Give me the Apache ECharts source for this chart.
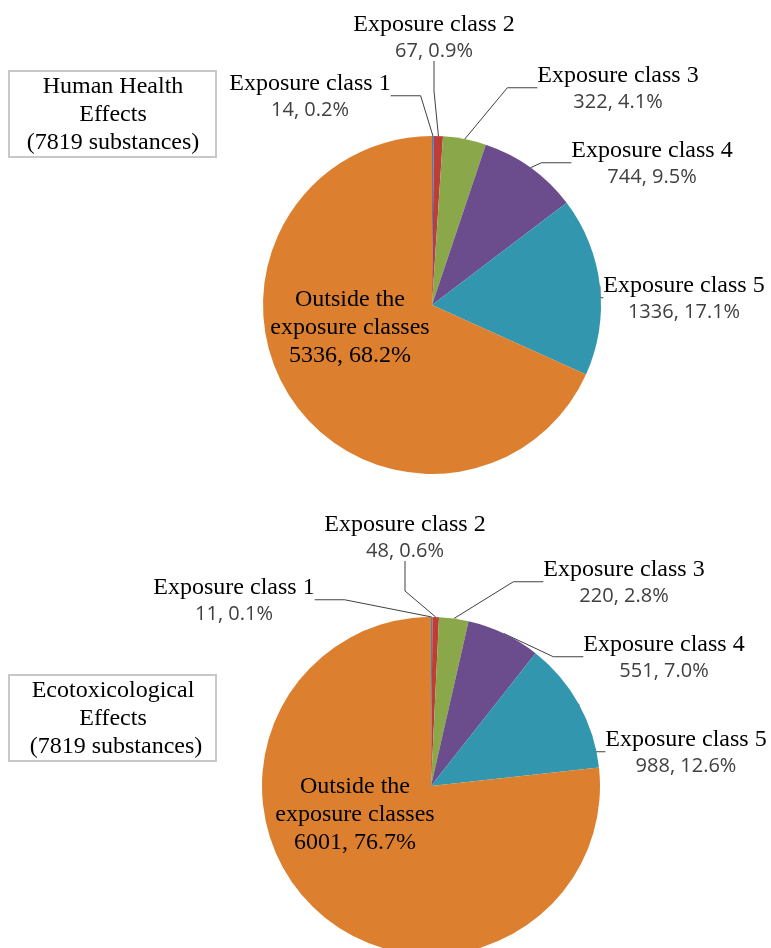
<!DOCTYPE html>
<html>
<head>
<meta charset="utf-8">
<script src="https://cdn.jsdelivr.net/npm/echarts@6/dist/echarts.min.js"></script>
<style>
  html, body { margin: 0; padding: 0; background: #fff; }
  #chart { width: 771px; height: 948px; }
</style>
</head>
<body>
<div id="chart"></div>
<script>
// data
var categories = ['Exposure class 1', 'Exposure class 2', 'Exposure class 3',
                  'Exposure class 4', 'Exposure class 5', 'Outside the exposure classes'];
var humanValues = [14, 67, 322, 744, 1336, 5336];
var ecoValues = [11, 48, 220, 551, 988, 6001];
var boxTitles = ['Human Health\nEffects\n(7819 substances)', 'Ecotoxicological\nEffects\n (7819 substances)'];

// styles
var colors = ['#4a7ebb', '#be3d36', '#8aa84a', '#6b4d8d', '#3196ae', '#dc7f2e'];
var serif = '"Liberation Serif", "Times New Roman", serif';
var sans = '"Open Sans", "Noto Sans", sans-serif';

// label block centres (layout only)
var humanLabelPos = [[310, 96], [434, 37], [618, 88], [652, 163], [684, 298], [350, 328]];
var ecoLabelPos = [[234, 600], [405, 537], [624, 582], [664, 657], [686, 752], [355, 815]];

function makeData(values) {
  return categories.map(function (c, i) {
    var item = { name: c, value: values[i], itemStyle: { color: colors[i] } };
    if (i === categories.length - 1) item.labelLine = { show: false };
    return item;
  });
}

function makePie(values, center, labelPos) {
  var total = values.reduce(function (a, b) { return a + b; }, 0);
  var last = categories.length - 1;
  return {
    type: 'pie',
    center: center,
    radius: 169,
    startAngle: 90,
    clockwise: true,
    avoidLabelOverlap: false,
    animation: false,
    data: makeData(values),
    label: {
      show: true,
      formatter: function (p) {
        var pct = (p.value / total * 100).toFixed(1);
        if (p.dataIndex === last) {
          return '{n|' + p.name.replace('the ', 'the\n') + '}\n{n|' + p.value + ', ' + pct + '%}';
        }
        return '{n|' + p.name + '}\n{v|' + p.value + ', ' + pct + '%}';
      },
      rich: {
        n: { fontFamily: serif, fontSize: 24, color: '#000', lineHeight: 28, align: 'center' },
        v: { fontFamily: sans, fontSize: 20, color: '#404040', lineHeight: 25, align: 'center' }
      }
    },
    labelLine: {
      show: true,
      lineStyle: { color: '#404040', width: 1 }
    },
    labelLayout: function (params) {
      var pos = labelPos[params.dataIndex];
      return { x: pos[0], y: pos[1], align: 'center', verticalAlign: 'middle' };
    }
  };
}

function makeBox(y, text) {
  return {
    type: 'group',
    children: [
      { type: 'rect', shape: { x: 9, y: y, width: 207, height: 86 },
        style: { fill: '#fff', stroke: '#c8c8c8', lineWidth: 2 } },
      { type: 'text', x: 113, y: y + 44,
        style: { text: text, fontFamily: serif, fontSize: 24, lineHeight: 28,
                 fill: '#000', align: 'center', verticalAlign: 'middle' } }
    ]
  };
}

var chart = echarts.init(document.getElementById('chart'), null, { renderer: 'canvas' });
chart.setOption({
  backgroundColor: '#fff',
  animation: false,
  series: [
    makePie(humanValues, [432, 305], humanLabelPos),
    makePie(ecoValues, [431, 786], ecoLabelPos)
  ],
  graphic: [makeBox(71, boxTitles[0]), makeBox(675, boxTitles[1])]
});
</script>
</body>
</html>
